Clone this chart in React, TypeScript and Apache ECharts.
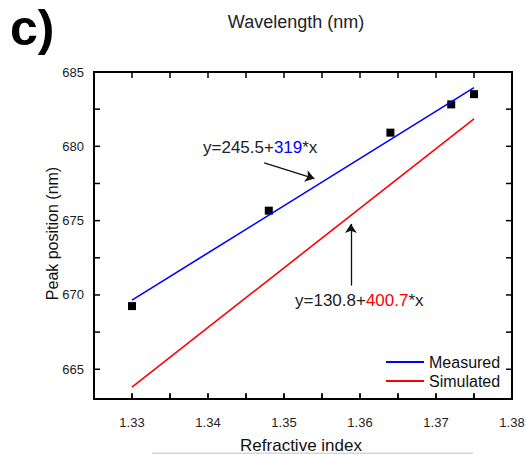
import React, { useEffect, useRef } from "react";
import * as echarts from "echarts";

// Measured peak positions
const refractiveIndex = [1.33, 1.348, 1.364, 1.372, 1.375];
const peakPosition = [669.25, 675.67, 680.92, 682.82, 683.51];

// Linear fits (end points)
const fitX = [1.33, 1.375];
const measuredFit = [669.65, 683.95];
const simulatedFit = [663.8, 681.85];

// Axis ticks and labels
const xTicks = [1.33, 1.335, 1.34, 1.345, 1.35, 1.355, 1.36, 1.365, 1.37, 1.375];
const yLabels = [665, 670, 675, 680, 685];
const yTicks = [665, 667.5, 670, 672.5, 675, 677.5, 680, 682.5];

// Annotation arrows [startX, startY, endX, endY]
const arrowMeasured = [1.3474, 678.88, 1.354, 677.83];
const arrowSimulated = [1.3588, 670.63, 1.3588, 674.78];

const FONT = "Liberation Sans";
const X_MIN = 1.325;
const X_MAX = 1.38;
const X_STEP = 0.005;
const Y_MIN = 663;
const Y_MAX = 685;
const TICK_LEN = 5;

export default function App() {
  const ref = useRef<HTMLDivElement>(null);

  useEffect(() => {
    if (!ref.current) return;
    const chart = echarts.init(ref.current, undefined, { renderer: "svg" });

    const option: any = {
      animation: false,
      backgroundColor: "#fff",
      grid: { left: 94, right: 14, top: 72, bottom: 55, outerBoundsMode: "none" },
      legend: {
        orient: "vertical",
        left: 386,
        top: 354,
        padding: 0,
        itemGap: 3,
        itemWidth: 38,
        itemHeight: 2,
        icon: "rect",
        data: ["Measured", "Simulated"],
        textStyle: { fontSize: 16, color: "#111", fontFamily: FONT },
      },
      xAxis: {
        type: "value",
        min: X_MIN,
        max: X_MAX,
        interval: X_STEP,
        axisLine: { show: true, lineStyle: { color: "#000", width: 2 } },
        axisTick: { show: true, inside: true, length: TICK_LEN, lineStyle: { color: "#000", width: 1.5 } },
        splitLine: { show: false },
        axisLabel: {
          margin: 17,
          fontSize: 13,
          color: "#222",
          fontFamily: FONT,
          formatter: (v: number) =>
            Math.round(v * 1000) % 10 === 0 ? v.toFixed(2) : "",
        },
      },
      yAxis: {
        type: "value",
        min: Y_MIN,
        max: Y_MAX,
        axisLine: { show: true, lineStyle: { color: "#000", width: 2 } },
        axisTick: { show: false },
        splitLine: { show: false },
        axisLabel: {
          customValues: yLabels,
          margin: 10,
          fontSize: 13,
          color: "#222",
          fontFamily: FONT,
        },
      },
      series: [
        {
          name: "Measured",
          type: "line",
          symbol: "none",
          clip: false,
          color: "#0000ff",
          lineStyle: { color: "#0000ff", width: 1.6 },
          data: fitX.map((x, i) => [x, measuredFit[i]]),
        },
        {
          name: "Simulated",
          type: "line",
          symbol: "none",
          clip: false,
          color: "#ff0000",
          lineStyle: { color: "#ff0000", width: 1.6 },
          data: fitX.map((x, i) => [x, simulatedFit[i]]),
        },
        {
          name: "points",
          type: "scatter",
          symbol: "rect",
          symbolSize: 8,
          clip: false,
          itemStyle: { color: "#000", opacity: 1 },
          data: refractiveIndex.map((x, i) => [x, peakPosition[i]]),
          markLine: {
            silent: true,
            symbol: ["none", "arrow"],
            symbolSize: 9,
            label: { show: false },
            lineStyle: { color: "#111", width: 1.3, type: "solid", opacity: 1 },
            data: [
              [
                { coord: [arrowMeasured[0], arrowMeasured[1]] },
                { coord: [arrowMeasured[2], arrowMeasured[3]] },
              ],
              [
                { coord: [arrowSimulated[0], arrowSimulated[1]] },
                { coord: [arrowSimulated[2], arrowSimulated[3]] },
              ],
            ],
          },
        },
      ],
    };

    chart.setOption(option);

    // Frame and tick marks placed through the axes' own scales (filled rects)
    const finder = { xAxisIndex: 0, yAxisIndex: 0 };
    const lb = chart.convertToPixel(finder, [X_MIN, Y_MIN]) as number[];
    const rt = chart.convertToPixel(finder, [X_MAX, Y_MAX]) as number[];
    const gl = lb[0];
    const gb = lb[1];
    const gr = rt[0];
    const gt = rt[1];
    const midX = (gl + gr) / 2;
    const midY = (gt + gb) / 2;
    const FW = 2;
    const TW = 1.5;

    const box = (x: number, y: number, w: number, h: number) => ({
      type: "rect",
      z: 1000,
      silent: true,
      shape: { x, y, width: w, height: h },
      style: { fill: "#000" },
    });

    const graphics: any[] = [
      {
        type: "text",
        left: 10,
        top: 3,
        style: { text: "c)", font: `bold 50px ${FONT}`, fill: "#000" },
      },
      {
        type: "text",
        x: 296,
        y: 22,
        style: {
          text: "Wavelength (nm)",
          font: `18px ${FONT}`,
          fill: "#222",
          align: "center",
          verticalAlign: "middle",
        },
      },
      {
        type: "text",
        x: midX - 2,
        y: gb + 46,
        style: {
          text: "Refractive index",
          font: `17px ${FONT}`,
          fill: "#111",
          align: "center",
          verticalAlign: "middle",
        },
      },
      {
        type: "text",
        x: gl - 42,
        y: midY - 2,
        rotation: Math.PI / 2,
        style: {
          text: "Peak position (nm)",
          font: `16px ${FONT}`,
          fill: "#111",
          align: "center",
          verticalAlign: "middle",
        },
      },
      {
        type: "text",
        x: 203,
        y: 147,
        style: {
          text: "{a|y=245.5+}{b|319}{a|*x}",
          verticalAlign: "middle",
          rich: {
            a: { fontSize: 17, fontFamily: FONT, fill: "#222" },
            b: { fontSize: 17, fontFamily: FONT, fill: "#0000ff" },
          },
        },
      },
      {
        type: "text",
        x: 295,
        y: 300,
        style: {
          text: "{a|y=130.8+}{b|400.7}{a|*x}",
          verticalAlign: "middle",
          rich: {
            a: { fontSize: 17, fontFamily: FONT, fill: "#222" },
            b: { fontSize: 17, fontFamily: FONT, fill: "#ff0000" },
          },
        },
      },
      {
        type: "rect",
        silent: true,
        shape: { x: 152, y: 452.5, width: 321, height: 1.5 },
        style: { fill: "#d6d6d6" },
      },
      box(gl - FW / 2, gt - FW / 2, gr - gl + FW, FW),
      box(gl - FW / 2, gb - FW / 2, gr - gl + FW, FW),
      box(gl - FW / 2, gt - FW / 2, FW, gb - gt + FW),
      box(gr - FW / 2, gt - FW / 2, FW, gb - gt + FW),
    ];
    yTicks.forEach((v) => {
      const py = (chart.convertToPixel(finder, [X_MIN, v]) as number[])[1];
      graphics.push(box(gl, py - TW / 2, TICK_LEN + FW / 2, TW));
      graphics.push(box(gr - TICK_LEN - FW / 2, py - TW / 2, TICK_LEN + FW / 2, TW));
    });
    xTicks.forEach((v) => {
      const px = (chart.convertToPixel(finder, [v, Y_MIN]) as number[])[0];
      graphics.push(box(px - TW / 2, gt, TW, TICK_LEN + FW / 2));
      graphics.push(box(px - TW / 2, gb - TICK_LEN - FW / 2, TW, TICK_LEN + FW / 2));
    });
    chart.setOption({ graphic: graphics });

    return () => chart.dispose();
  }, []);

  return (
    <div
      ref={ref}
      style={{ position: "fixed", left: 0, top: 0, width: 526, height: 454, background: "#fff" }}
    />
  );
}
